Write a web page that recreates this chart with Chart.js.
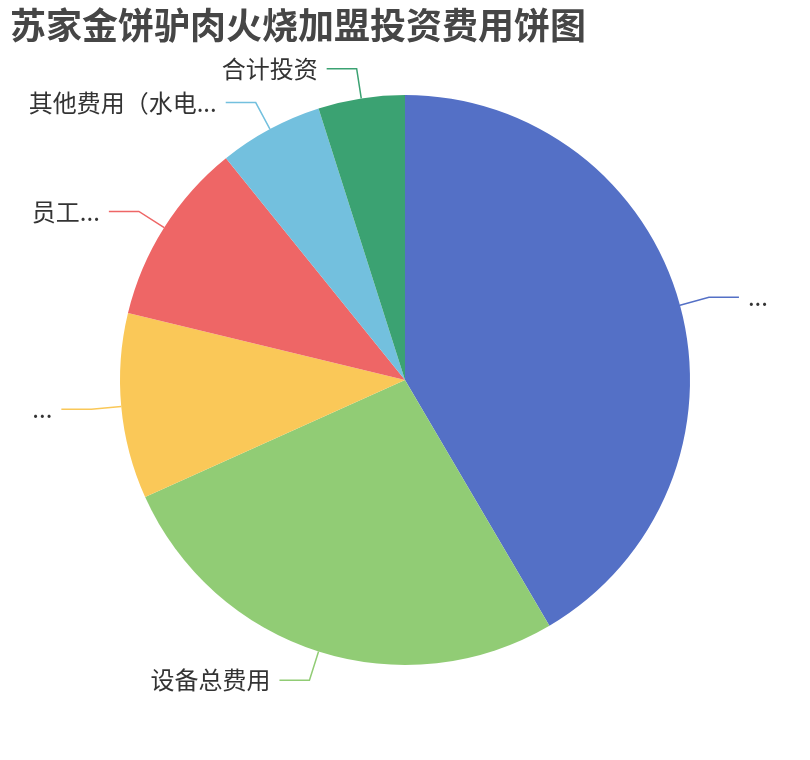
<!DOCTYPE html>
<html>
<head>
<meta charset="utf-8">
<script src="https://cdn.jsdelivr.net/npm/chart.js@4.4.0/dist/chart.umd.min.js"></script>
<style>
  body { margin: 0; background: #fff; }
  #wrap { width: 810px; height: 760px; position: relative; }
</style>
</head>
<body>
<div id="wrap"><canvas id="Chart"></canvas></div>
<script>
let titleText = "苏家金饼驴肉火烧加盟投资费用饼图"
// labels as shown on the picture (truncated ones kept truncated)
let labels = ["...", "设备总费用", "...", "员工...", "其他费用（水电...", "合计投资"]
let values = [41.5, 26.7, 10.5, 10.4, 5.9, 4.9]
let colors = ["#5470c6", "#91cc75", "#fac858", "#ee6666", "#73c0de", "#3ba272"]

let fontFamily = "'Noto Sans CJK SC', 'Noto Sans', sans-serif"

// draws the title in the top-left corner
let titlePlugin = {
	id: "titlePlugin",
	afterDraw(chart){
		let ctx = chart.ctx
		ctx.save()
		ctx.font = "bold 36px " + fontFamily
		ctx.fillStyle = "#464646"
		ctx.textAlign = "left"
		ctx.textBaseline = "middle"
		ctx.fillText(titleText, 10, 25)
		ctx.restore()
	}
}

// outside labels with a bent leader line, like echarts
let labelPlugin = {
	id: "labelPlugin",
	afterDatasetsDraw(chart){
		let ctx = chart.ctx
		let meta = chart.getDatasetMeta(0)
		ctx.save()
		ctx.font = "24px " + fontFamily
		ctx.textBaseline = "middle"
		meta.data.forEach((arc, i) => {
			let p = arc.getProps(["x", "y", "startAngle", "endAngle", "outerRadius"], true)
			let mid = (p.startAngle + p.endAngle) / 2
			let cx = Math.cos(mid)
			let cy = Math.sin(mid)
			let x0 = p.x + cx * p.outerRadius
			let y0 = p.y + cy * p.outerRadius
			let x1 = x0 + cx * 30
			let y1 = y0 + cy * 30
			let right = cx >= 0
			let x2 = x1 + (right ? 30 : -30)
			ctx.strokeStyle = colors[i]
			ctx.lineWidth = 1.5
			ctx.beginPath()
			ctx.moveTo(x0, y0)
			ctx.lineTo(x1, y1)
			ctx.lineTo(x2, y1)
			ctx.stroke()
			ctx.fillStyle = "#333"
			ctx.textAlign = right ? "left" : "right"
			ctx.fillText(labels[i], x2 + (right ? 9 : -9), y1)
		})
		ctx.restore()
	}
}

new Chart("Chart", {
	type: "pie",
	data: {
		labels: labels,
		datasets: [{
			data: values,
			backgroundColor: colors,
			borderWidth: 0,
			hoverOffset: 0
		}]
	},
	options: {
		responsive: true,
		maintainAspectRatio: false,
		animation: false,
		layout: { padding: { top: 95, bottom: 95, left: 120, right: 120 } },
		plugins: {
			legend: { display: false },
			title: { display: false },
			tooltip: { enabled: false }
		}
	},
	plugins: [titlePlugin, labelPlugin]
})
</script>
</body>
</html>
